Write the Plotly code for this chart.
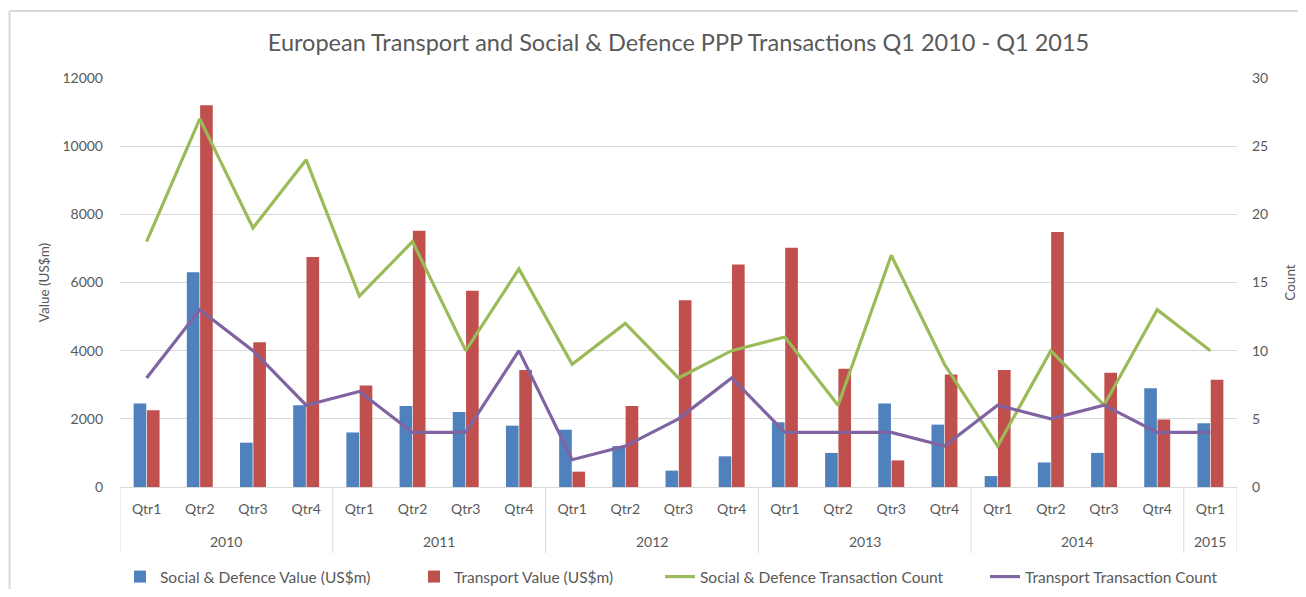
import plotly.graph_objects as go

years = ["2010", "2011", "2012", "2013", "2014", "2015"]
quarters_per_year = [4, 4, 4, 4, 4, 1]
quarters = ["Qtr1", "Qtr2", "Qtr3", "Qtr4"] * 5 + ["Qtr1"]

social_value = [2450, 6300, 1300, 2400, 1600, 2380, 2200, 1800, 1680, 1200, 480, 900,
                1900, 1000, 2450, 1830, 320, 720, 1000, 2900, 1870]
transport_value = [2250, 11200, 4250, 6750, 2980, 7520, 5760, 3430, 450, 2380, 5480, 6530,
                   7020, 3470, 780, 3300, 3430, 7480, 3350, 1980, 3150]
social_count = [18, 27, 19, 24, 14, 18, 10, 16, 9, 12, 8, 10, 11, 6, 17, 9, 3, 10, 6, 13, 10]
transport_count = [8, 13, 10, 6, 7, 4, 4, 10, 2, 3, 5, 8, 4, 4, 4, 3, 6, 5, 6, 4, 4]

idx = list(range(len(quarters)))
FONT = "Lato"
GREY = "#595959"
LINEC = "#d9d9d9"

# page body has an 8px margin, so the figure is drawn at (8, 8)
W, H = 1290, 581
PL, PR, PT, PB = 112, 1229, 70, 479  # plot area in figure pixels

fig = go.Figure()
fig.add_trace(go.Bar(x=idx, y=social_value, name="Social & Defence Value (US$m)",
                     marker=dict(color="#4F81BD", line=dict(width=0)), legend="legend",
                     showlegend=True))
fig.add_trace(go.Bar(x=idx, y=transport_value, name="Transport Value (US$m)",
                     marker=dict(color="#C0504D", line=dict(width=0)), legend="legend2",
                     showlegend=True))
fig.add_trace(go.Scatter(x=idx, y=social_count, name="Social & Defence Transaction Count",
                         mode="lines", line=dict(color="#9BBB59", width=3.2), yaxis="y2",
                         legend="legend3", showlegend=True))
fig.add_trace(go.Scatter(x=idx, y=transport_count, name="Transport Transaction Count",
                         mode="lines", line=dict(color="#8064A2", width=3.2), yaxis="y2",
                         legend="legend4", showlegend=True))

pw = PR - PL
ph = PB - PT

annotations = []
shapes = []
start = 0
bounds = [-0.5]
for yr, n in zip(years, quarters_per_year):
    mid = start + (n - 1) / 2
    annotations.append(dict(x=mid, xref="x", y=-54 / ph, yref="paper", text=yr,
                            showarrow=False, xanchor="center", yanchor="middle",
                            font=dict(family=FONT, size=14, color=GREY)))
    start += n
    bounds.append(start - 0.5)
for b in bounds:
    shapes.append(dict(type="line", xref="x", yref="paper", x0=b, x1=b, y0=0, y1=-66 / ph,
                       line=dict(color=LINEC, width=1)))

# chart border (left and top visible)
bx = (1.5 - PL) / pw
by = (PB - 3) / ph
shapes.append(dict(type="line", xref="paper", yref="paper", x0=bx, x1=1.2,
                   y0=by, y1=by, line=dict(color=LINEC, width=2)))
shapes.append(dict(type="line", xref="paper", yref="paper", x0=bx, x1=bx,
                   y0=by, y1=-0.35, line=dict(color=LINEC, width=2)))

text_starts = [160, 454, 700, 1025]  # screen px where legend text begins
leg_y = 1 - (577 - 8) / H


def leg(tx):
    return dict(orientation="h", x=(tx - 8 - 40) / W, xref="container", xanchor="left",
                y=leg_y, yref="container", yanchor="middle",
                font=dict(family=FONT, size=15.5, color=GREY), itemwidth=30,
                bgcolor="rgba(0,0,0,0)")


fig.update_layout(
    width=W, height=H, showlegend=True,
    paper_bgcolor="white", plot_bgcolor="white",
    margin=dict(l=PL, r=W - PR, t=PT, b=H - PB, autoexpand=False),
    font=dict(family=FONT, size=14, color=GREY),
    title=dict(text="European Transport and Social & Defence PPP Transactions Q1 2010 - Q1 2015",
               x=0.5, xanchor="center", y=1 - 35 / H, yanchor="middle", yref="container",
               xref="paper", font=dict(family=FONT, size=23.5, color=GREY)),
    barmode="group", bargap=0.5, bargroupgap=0.05,
    xaxis=dict(range=[-0.5, 20.5], tickvals=idx, ticktext=quarters, ticks="",
               showline=True, linecolor=LINEC, linewidth=1, showgrid=False, zeroline=False,
               tickfont=dict(size=14, color=GREY), ticklabelstandoff=9, automargin=False),
    yaxis=dict(range=[0, 12000], dtick=2000, tickformat="d", showgrid=True, gridcolor=LINEC,
               zeroline=False, tickfont=dict(size=14, color=GREY), ticks="",
               ticklabelstandoff=16, automargin=False,
               title=dict(text="Value (US$m)", font=dict(size=13.5, color=GREY), standoff=9)),
    yaxis2=dict(range=[0, 30], dtick=5, overlaying="y", side="right", showgrid=False,
                zeroline=False, tickfont=dict(size=14, color=GREY), ticks="",
                ticklabelstandoff=14, automargin=False,
                title=dict(text="Count", font=dict(size=13.5, color=GREY), standoff=20)),
    legend=leg(text_starts[0]),
    legend2=leg(text_starts[1]),
    legend3=leg(text_starts[2]),
    legend4=leg(text_starts[3]),
    annotations=annotations,
    shapes=shapes,
)

fig.write_html("out.html")
